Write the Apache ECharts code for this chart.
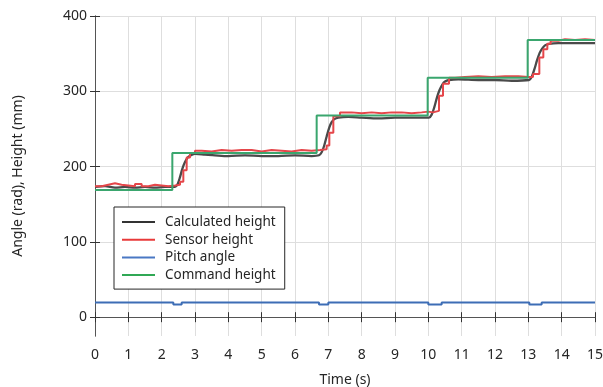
<!DOCTYPE html>
<html>
<head>
<meta charset="utf-8">
<script src="https://cdn.jsdelivr.net/npm/echarts@6/dist/echarts.min.js"></script>
<style>
  html, body { margin: 0; padding: 0; background: #fff; }
  #chart { width: 603px; height: 387px; }
</style>
</head>
<body>
<div id="chart"></div>
<script>
// [time (s), value]
const calcHeight = [
  [0, 173], [0.3, 174], [0.6, 172], [0.9, 173], [1.2, 172], [1.5, 173], [1.8, 172], [2.1, 173], [2.4, 173],
  [2.48, 177], [2.55, 186], [2.62, 197], [2.7, 206], [2.78, 212], [2.88, 215], [3.0, 217], [3.3, 216],
  [3.6, 215], [4.0, 214], [4.5, 215], [5.0, 214], [5.5, 214], [6.0, 215], [6.5, 214], [6.72, 215],
  [6.8, 219], [6.87, 227], [6.95, 240], [7.03, 252], [7.1, 259], [7.18, 263], [7.3, 265], [7.6, 266],
  [8.0, 265], [8.5, 264], [9.0, 265], [9.5, 265], [10.02, 265],
  [10.1, 269], [10.18, 279], [10.26, 292], [10.34, 302], [10.42, 309], [10.5, 313], [10.62, 315],
  [10.9, 316], [11.5, 315], [12.0, 315], [12.5, 314], [13.02, 315],
  [13.1, 319], [13.18, 329], [13.26, 341], [13.34, 351], [13.42, 357], [13.5, 361], [13.62, 363],
  [13.9, 364], [14.5, 364], [15, 364]
];
const sensorHeight = [
  [0, 174], [0.2, 176], [0.4, 178], [0.6, 176], [0.8, 175], [1.0, 174], [1.2, 177], [1.4, 174], [1.6, 176],
  [1.8, 175], [2.0, 174], [2.2, 175], [2.4, 176], [2.55, 180], [2.65, 195], [2.75, 212], [2.85, 218],
  [3.0, 221], [3.2, 220], [3.5, 222], [3.8, 221], [4.1, 222], [4.4, 222], [4.7, 220],
  [5.0, 222], [5.3, 221], [5.6, 220], [5.9, 222], [6.2, 221], [6.5, 222], [6.75, 223],
  [6.95, 228], [7.03, 245], [7.15, 267], [7.35, 272], [7.7, 271], [8.0, 272],
  [8.3, 271], [8.6, 272], [8.9, 272], [9.2, 271], [9.5, 272], [9.8, 273], [10.0, 272],
  [10.14, 274], [10.32, 294], [10.44, 310], [10.62, 318], [10.8, 319], [11.1, 320], [11.5, 319], [11.9, 320],
  [12.3, 320], [12.7, 319], [13.0, 319],
  [13.14, 323], [13.33, 345], [13.45, 356], [13.57, 363], [13.67, 367], [13.9, 369],
  [14.1, 368], [14.4, 369], [14.7, 368], [15, 368]
];
const pitchAngle = [
  [0, 19.5], [2.35, 19.5], [2.35, 16.8], [2.6, 16.8], [2.6, 19.5],
  [6.72, 19.5], [6.72, 16.8], [7.0, 16.8], [7.0, 19.5], [10.0, 19.5], [10.0, 16.8],
  [10.4, 16.8], [10.4, 19.5], [13.03, 19.5], [13.03, 16.8], [13.4, 16.8], [13.4, 19.5], [15, 19.5]
];
const commandHeight = [
  [0, 169], [2.32, 169], [2.32, 218], [6.65, 218], [6.65, 268], [9.98, 268], [9.98, 318],
  [12.98, 318], [12.98, 368], [15, 368]
];
const seriesNames = ['Calculated height', 'Sensor height', 'Pitch angle', 'Command height'];
const yTicks = [0, 100, 200, 300, 400];

const FONT = 'Noto Sans';
const chart = echarts.init(document.getElementById('chart'));

const lineSeries = (name, data, color, extra) => Object.assign({
  name: name,
  type: 'line',
  data: data,
  showSymbol: false,
  symbol: 'none',
  animation: false,
  lineStyle: { color: color, width: 2 },
  itemStyle: { color: color }
}, extra || {});

chart.setOption({
  animation: false,
  grid: { left: 95, right: 8, top: 16, bottom: 51, outerBoundsMode: 'none', containLabel: false },
  xAxis: [{
    type: 'value', min: 0, max: 15, interval: 1,
    name: 'Time (s)', nameLocation: 'middle', nameGap: 37,
    nameTextStyle: { fontFamily: FONT, fontSize: 14, color: '#262626' },
    axisLine: { show: true, lineStyle: { color: '#555', width: 1 } },
    axisTick: { inside: true, length: 5, lineStyle: { color: '#333' } },
    axisLabel: { fontFamily: FONT, fontSize: 14, color: '#262626', margin: 12 },
    splitLine: { show: true, lineStyle: { color: '#dedede', width: 1 } }
  }, {
    type: 'value', min: 0, max: 15, interval: 1, position: 'top',
    axisLine: { show: true, lineStyle: { color: '#555', width: 1 } },
    axisTick: { inside: true, length: 5, lineStyle: { color: '#333' } },
    axisLabel: { show: false },
    splitLine: { show: false }
  }],
  yAxis: [{
    type: 'value', min: -25, max: 400,
    name: 'Angle (rad), Height (mm)', nameLocation: 'middle', nameGap: 70,
    nameTextStyle: { fontFamily: FONT, fontSize: 14, color: '#262626' },
    axisLine: { show: true, lineStyle: { color: '#555', width: 1 } },
    axisTick: { inside: true, length: 5, customValues: yTicks, lineStyle: { color: '#333' } },
    axisLabel: { fontFamily: FONT, fontSize: 14, color: '#262626', margin: 8, customValues: yTicks },
    splitLine: { show: true, lineStyle: { color: '#dedede', width: 1 } }
  }, {
    type: 'value', min: -25, max: 400, position: 'right',
    axisLine: { show: true, lineStyle: { color: '#555', width: 1 } },
    axisTick: { inside: true, length: 5, customValues: yTicks, lineStyle: { color: '#333' } },
    axisLabel: { show: false },
    splitLine: { show: false }
  }],
  legend: {
    orient: 'vertical',
    left: 114, top: 207,
    padding: [8, 9, 7, 8],
    itemGap: 3.7,
    itemWidth: 33, itemHeight: 2,
    icon: 'rect',
    backgroundColor: '#fff',
    borderColor: '#262626', borderWidth: 1,
    textStyle: { fontFamily: FONT, fontSize: 13.5, color: '#262626', lineHeight: 13, padding: [0, 0, 0, 5] },
    data: [
      { name: seriesNames[0], itemStyle: { color: '#333333' } },
      { name: seriesNames[1], itemStyle: { color: '#e83a3a' } },
      { name: seriesNames[2], itemStyle: { color: '#4a78c4' } },
      { name: seriesNames[3], itemStyle: { color: '#30a855' } }
    ]
  },
  series: [
    lineSeries(seriesNames[0], calcHeight, '#4a4a4a', { smooth: 0.3, lineStyle: { color: '#4a4a4a', width: 2.3 } }),
    lineSeries(seriesNames[1], sensorHeight, '#e5464a', { step: 'end' }),
    lineSeries(seriesNames[2], pitchAngle, '#3d6db5'),
    lineSeries(seriesNames[3], commandHeight, '#3aa66e')
  ]
});
</script>
</body>
</html>
